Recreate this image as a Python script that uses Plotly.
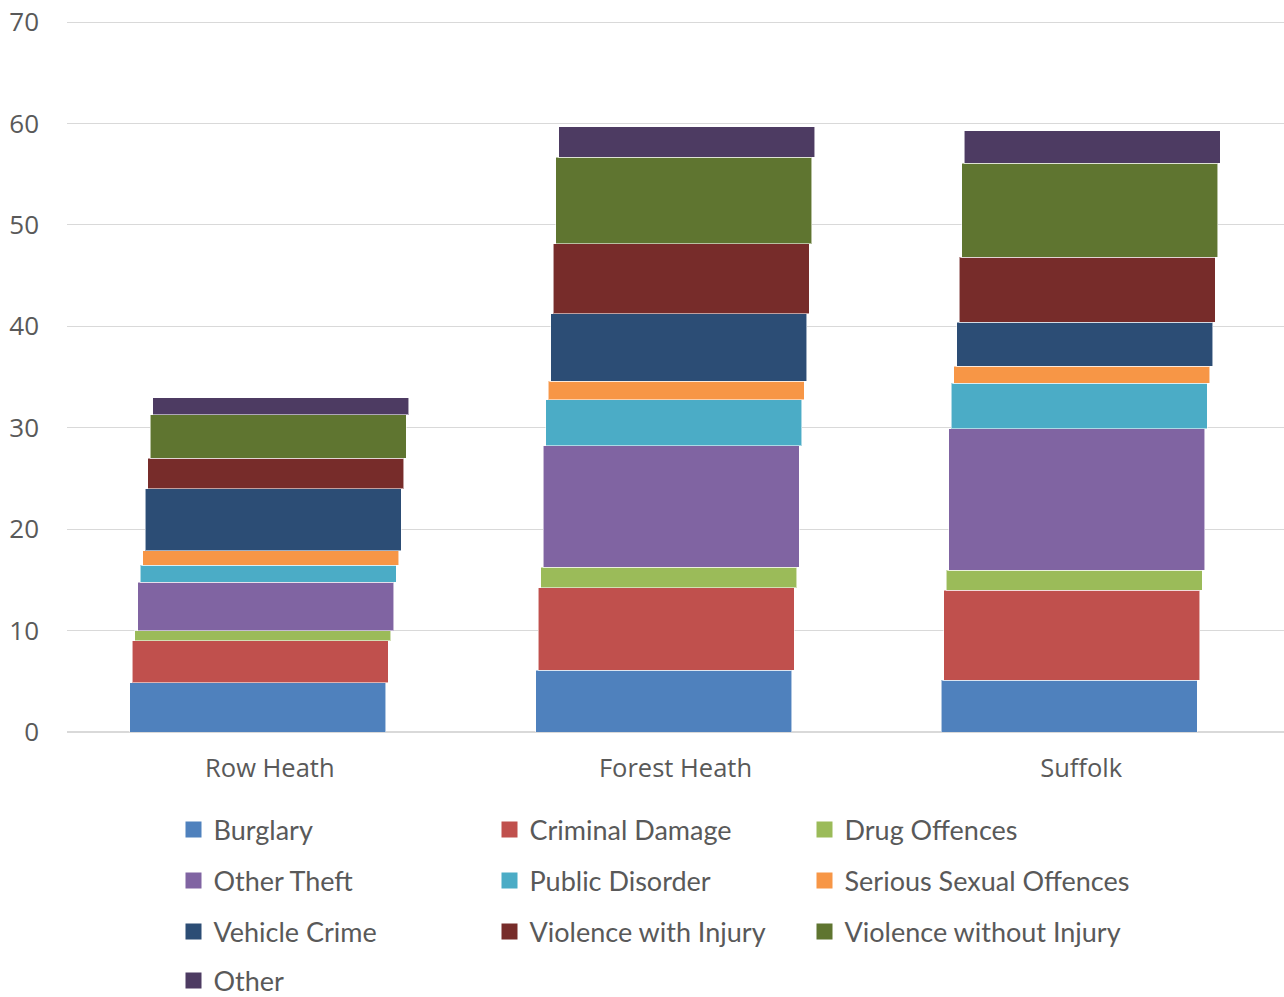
import plotly.graph_objects as go

# ==================================================
# DATA (rate per 1,000 population)
# ==================================================
areas = ["Row Heath", "Forest Heath", "Suffolk"]

burglary = [4.88, 6.10, 5.08]
criminal_damage = [4.10, 8.13, 8.88]
drug_offences = [0.99, 1.99, 1.99]
other_theft = [4.78, 12.00, 13.96]
public_disorder = [1.69, 4.54, 4.49]
serious_sexual = [1.45, 1.84, 1.68]
vehicle_crime = [6.07, 6.64, 4.34]
violence_with_injury = [3.04, 6.92, 6.41]
violence_without_injury = [4.29, 8.52, 9.27]
other = [1.65, 3.01, 3.20]

series_names = [
    "Burglary", "Criminal Damage", "Drug Offences",
    "Other Theft", "Public Disorder", "Serious Sexual Offences",
    "Vehicle Crime", "Violence with Injury", "Violence without Injury",
    "Other",
]
series_values = [
    burglary, criminal_damage, drug_offences,
    other_theft, public_disorder, serious_sexual,
    vehicle_crime, violence_with_injury, violence_without_injury,
    other,
]
colors = [
    "#4F81BD", "#C0504D", "#9BBB59",
    "#8064A2", "#4BACC6", "#F79646",
    "#2C4D75", "#772C2A", "#5F7530",
    "#4D3B62",
]

y_max = 70.2   # a hair above 70 so the top gridline is drawn

# -------------------
# Geometry helpers (pixels of the 1284x997 page)
# -------------------
PLOT_L, PLOT_R = 67, 1284
PLOT_B = 732
px_per_unit = (732 - 22) / 70
PLOT_T = round(PLOT_B - y_max * px_per_unit)
plot_h = PLOT_B - PLOT_T
plot_w = PLOT_R - PLOT_L

bar_width = 0.631
base_offset = -0.345
step = 0.0063   # each layer drawn a little further right (3D look)

legend_rows_px = [830, 881, 932, 981]
legend_cols_px = [189, 505, 820]     # swatch left edge
SWATCH_FROM_LEGEND_X = 14.5 + 1

fig = go.Figure()

# -------------------
# Stacked bars
# -------------------
for i, (name, vals, col) in enumerate(zip(series_names, series_values, colors)):
    fig.add_trace(go.Bar(
        x=areas,
        y=vals,
        name=name,
        width=[bar_width] * len(areas),
        offset=[base_offset + i * step] * len(areas),
        marker=dict(color=col, line=dict(color="rgba(255,255,255,0.55)", width=1)),
        showlegend=False,
    ))

# -------------------
# Legend entries: one small legend per entry, laid out on a 3-column grid
# -------------------
legends = {}
for i, (name, col) in enumerate(zip(series_names, colors)):
    key = "legend" if i == 0 else f"legend{i + 1}"
    fig.add_trace(go.Scatter(
        x=[None],
        y=[None],
        mode="markers",
        name=name,
        marker=dict(symbol="square", size=16, color=col),
        legend=key,
    ))
    row, c = divmod(i, 3)
    legends[key] = dict(
        xanchor="left",
        yanchor="middle",
        x=(legend_cols_px[c] - SWATCH_FROM_LEGEND_X - PLOT_L) / plot_w,
        y=(PLOT_B - legend_rows_px[row]) / plot_h,
        font=dict(family="Lato", size=27, color="#595959"),
        bgcolor="rgba(0,0,0,0)",
    )

# -------------------
# Layout
# -------------------
fig.update_layout(
    barmode="stack",
    width=1284,
    height=997,
    margin=dict(l=PLOT_L, r=0, t=PLOT_T, b=997 - PLOT_B, autoexpand=False),
    plot_bgcolor="white",
    paper_bgcolor="white",
    font=dict(family="Open Sans", color="#595959"),
    xaxis=dict(
        range=[-0.5, 2.5],
        showgrid=False,
        showline=False,
        zeroline=False,
        ticks="",
        automargin=False,
        tickfont=dict(family="Open Sans", size=25.5, color="#595959"),
        ticklabelstandoff=18,
    ),
    yaxis=dict(
        range=[0, y_max],
        tickvals=[0, 10, 20, 30, 40, 50, 60, 70],
        showgrid=True,
        gridcolor="#D9D9D9",
        gridwidth=1,
        zeroline=True,
        zerolinecolor="#D9D9D9",
        zerolinewidth=2,
        showline=False,
        ticks="",
        automargin=False,
        tickfont=dict(family="Open Sans", size=26, color="#595959"),
        ticklabelstandoff=27,
    ),
    **legends,
)

# the page body has an 8px default margin; drop it so the figure fills the window
fig.write_html(
    "out.html",
    config={"displayModeBar": False},
    post_script="document.body.style.margin='0';",
)
